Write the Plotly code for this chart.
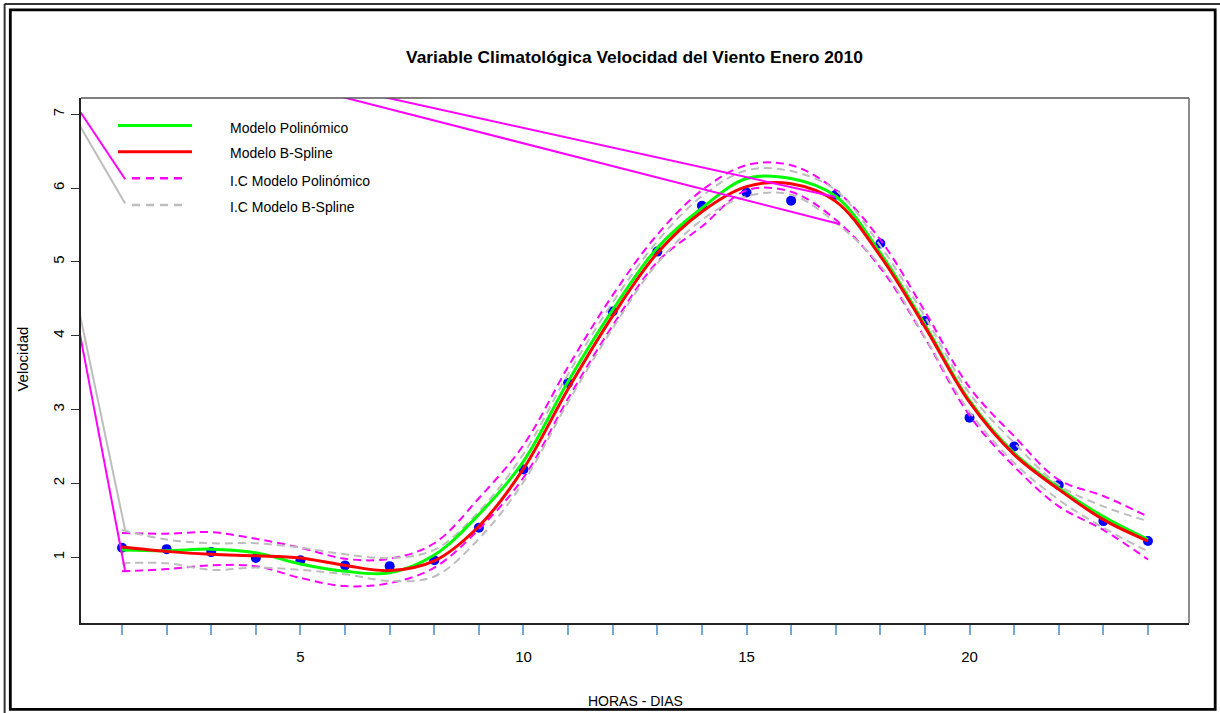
import plotly.graph_objects as go

# ---------------- data ----------------
hours = list(range(1, 25))
observed = [1.13, 1.11, 1.07, 0.99, 0.96, 0.89, 0.88, 0.96, 1.40, 2.19, 3.36, 4.33,
            5.14, 5.76, 5.94, 5.83, 5.91, 5.25, 4.20, 2.89, 2.50, 1.98, 1.49, 1.22]
poly_fit = [1.10, 1.09, 1.11, 1.06, 0.91, 0.81, 0.79, 1.03, 1.58, 2.30, 3.38, 4.35,
            5.19, 5.73, 6.13, 6.13, 5.89, 5.12, 4.15, 3.12, 2.41, 1.94, 1.55, 1.24]
bspline_fit = [1.14, 1.08, 1.04, 1.02, 0.99, 0.89, 0.82, 0.95, 1.42, 2.20, 3.28, 4.27,
               5.12, 5.68, 6.02, 6.06, 5.82, 5.08, 4.12, 3.10, 2.39, 1.92, 1.51, 1.22]
poly_upper = [1.33, 1.32, 1.34, 1.25, 1.13, 0.98, 0.98, 1.19, 1.80, 2.52, 3.58, 4.55,
              5.37, 5.97, 6.31, 6.31, 5.97, 5.30, 4.33, 3.30, 2.64, 2.05, 1.83, 1.55]
poly_lower = [0.81, 0.84, 0.89, 0.88, 0.72, 0.61, 0.65, 0.86, 1.38, 2.08, 3.15, 4.14,
              5.00, 5.48, 5.97, 5.95, 5.57, 4.92, 3.97, 2.92, 2.23, 1.69, 1.37, 0.97]
bs_upper = [1.37, 1.24, 1.19, 1.19, 1.13, 1.04, 0.99, 1.10, 1.62, 2.40, 3.48, 4.45,
            5.28, 5.89, 6.24, 6.23, 5.97, 5.22, 4.26, 3.22, 2.55, 1.98, 1.69, 1.49]
bs_lower = [0.92, 0.92, 0.83, 0.86, 0.83, 0.77, 0.68, 0.74, 1.25, 2.02, 3.10, 4.10,
            4.98, 5.57, 5.89, 5.91, 5.53, 4.95, 3.98, 2.97, 2.28, 1.78, 1.40, 1.08]

# stray connecting lines visible in the original figure (x pairs, y pairs)
stray_magenta_x = [[0, 17.0], [0, 17.1], [0, 1.07], [0, 1.07]]
stray_magenta_y = [[8.15, 5.88], [8.15, 5.51], [7.09, 6.12], [4.20, 0.81]]
stray_gray_x = [[0, 1.07], [0, 1.07]]
stray_gray_y = [[6.90, 5.79], [4.45, 1.37]]

y_ticks = [1, 2, 3, 4, 5, 6, 7]
x_ticks = hours
x_ticktext = [str(h) if h % 5 == 0 else "" for h in hours]

legend_labels = ["Modelo Polinómico", "Modelo B-Spline",
                 "I.C Modelo Polinómico", "I.C Modelo B-Spline"]
title_text = "Variable Climatológica Velocidad del Viento Enero 2010"

# ---------------- layout helpers ----------------
W, H = 1220, 713
L, R, T, B = 81, 1189.3, 98.3, 623.5
PW, PH = R - L, B - T


def xp(px):
    return (px - L) / PW


def yp(py):
    return (B - py) / PH


FONT = "Liberation Sans, Arial, sans-serif"
MAG = "#ff00ff"
GRY = "#bdbdbd"

fig = go.Figure()

fig.add_trace(go.Scatter(x=hours, y=observed, mode="markers",
                         marker=dict(color="#0000ff", size=10, line=dict(width=0)),
                         showlegend=False))

for ys in (poly_upper, poly_lower):
    fig.add_trace(go.Scatter(x=hours, y=ys, mode="lines", line_shape="spline",
                             line=dict(color=MAG, width=2, dash="8px,5px"), showlegend=False))
for ys in (bs_upper, bs_lower):
    fig.add_trace(go.Scatter(x=hours, y=ys, mode="lines", line_shape="spline",
                             line=dict(color=GRY, width=2, dash="8px,5px"), showlegend=False))

fig.add_trace(go.Scatter(x=hours, y=poly_fit, mode="lines", line_shape="spline",
                         line=dict(color="#00ff00", width=3), showlegend=False))
fig.add_trace(go.Scatter(x=hours, y=bspline_fit, mode="lines", line_shape="spline",
                         line=dict(color="#ff0000", width=3), showlegend=False))

for xs, ys in zip(stray_gray_x, stray_gray_y):
    fig.add_trace(go.Scatter(x=xs, y=ys, mode="lines", line=dict(color=GRY, width=2),
                             showlegend=False))
for xs, ys in zip(stray_magenta_x, stray_magenta_y):
    fig.add_trace(go.Scatter(x=xs, y=ys, mode="lines", line=dict(color=MAG, width=2),
                             showlegend=False))

shapes = []
# top and right frame of the plot box (lighter than the axes)
shapes.append(dict(type="line", xref="paper", yref="paper", x0=0, x1=1, y0=1, y1=1,
                   line=dict(color="#555555", width=1.5)))
shapes.append(dict(type="line", xref="paper", yref="paper", x0=1, x1=1, y0=0, y1=1,
                   line=dict(color="#666666", width=1.5)))
# legend samples
leg_rows = [125.7, 152.0, 178.7, 205.3]
leg_styles = [("#00ff00", None, 118, 192), ("#ff0000", None, 118, 192),
              (MAG, "dash", 132, 183), (GRY, "dash", 132, 183)]
for py, (col, dash, x0, x1) in zip(leg_rows, leg_styles):
    shapes.append(dict(type="line", xref="paper", yref="paper",
                       x0=xp(x0), x1=xp(x1), y0=yp(py), y1=yp(py),
                       line=dict(color=col, width=3 if dash is None else 2.5,
                                 dash="8px,6px" if dash else "solid")))
# outer frames
shapes.append(dict(type="line", xref="paper", yref="paper", x0=xp(4.5), x1=xp(1225),
                   y0=yp(4.3), y1=yp(4.3), line=dict(color="#333333", width=2)))
shapes.append(dict(type="line", xref="paper", yref="paper", x0=xp(4.6), x1=xp(4.6),
                   y0=yp(4.3), y1=yp(720), line=dict(color="#333333", width=2)))
shapes.append(dict(type="rect", xref="paper", yref="paper", x0=xp(10.3), x1=xp(1215.5),
                   y0=yp(10.2), y1=yp(710), line=dict(color="#000000", width=2.8)))

annotations = []
text_rows = [128.3, 153.5, 181.7, 207.7]
for py, lab in zip(text_rows, legend_labels):
    annotations.append(dict(text=lab, xref="paper", yref="paper", x=xp(228), y=yp(py),
                            xanchor="left", yanchor="middle", showarrow=False,
                            font=dict(family=FONT, size=14, color="#000000")))
annotations.append(dict(text="<b>" + title_text + "</b>", xref="paper", yref="paper",
                        x=xp(635), y=yp(57), xanchor="center", yanchor="middle",
                        showarrow=False, font=dict(family=FONT, size=17.4, color="#000000")))
annotations.append(dict(text="HORAS - DIAS", xref="paper", yref="paper",
                        x=xp(636), y=yp(702), xanchor="center", yanchor="middle",
                        showarrow=False, font=dict(family=FONT, size=14, color="#000000")))
annotations.append(dict(text="Velocidad", xref="paper", yref="paper",
                        x=xp(23), y=yp(360), xanchor="center", yanchor="middle",
                        textangle=-90, showarrow=False,
                        font=dict(family=FONT, size=15, color="#000000")))

fig.update_layout(
    width=W, height=H, autosize=False,
    margin=dict(l=L, r=W - R, t=T, b=H - B, pad=0),
    paper_bgcolor="white", plot_bgcolor="white",
    shapes=shapes, annotations=annotations, showlegend=False,
    xaxis=dict(range=[0.08, 24.92], tickvals=x_ticks, ticktext=x_ticktext,
               ticks="outside", ticklen=10, tickwidth=1.5, tickcolor="#74a9d8",
               showgrid=False, zeroline=False, showline=True, linecolor="#222222",
               linewidth=1.8, ticklabelstandoff=9,
               tickfont=dict(family=FONT, size=15, color="#000000")),
    yaxis=dict(range=[0.11, 7.22], tickvals=y_ticks, ticks="outside", ticklen=8,
               tickwidth=1.2, tickcolor="#333333", tickangle=-90,
               showgrid=False, zeroline=False, showline=True, linecolor="#222222",
               linewidth=1.8, ticklabelstandoff=1,
               tickfont=dict(family=FONT, size=15, color="#000000")),
)

fig.write_html("out.html")
